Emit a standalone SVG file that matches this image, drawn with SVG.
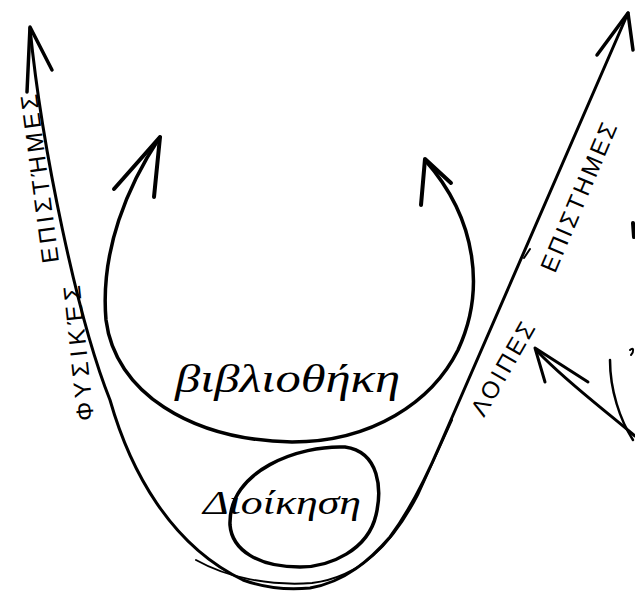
<svg xmlns="http://www.w3.org/2000/svg" width="635" height="591" viewBox="0 0 635 591">
<style>
.ln{fill:none;stroke:#000;stroke-linecap:round;stroke-linejoin:round}
.t{fill:#000;font-family:"Liberation Sans","DejaVu Sans",sans-serif;font-size:24px}
.h{fill:#000;font-family:"Liberation Serif","DejaVu Serif",serif;font-style:italic}
</style>
<rect width="635" height="591" fill="#fff"/>
<g id="connectors">
  <path class="ln" stroke-width="3" d="M30,28 C42,150 78,320 110,400 C130,470 170,545 243,580 C265,588 290,590 310,588 C345,582 370,560 390,537 C410,510 425,480 440,445 L628,13"/>
  <path class="ln" stroke-width="2" d="M196,560 C228,578 270,586 312,583 C360,577 392,545 418,495 L452,420"/>
  <path class="ln" stroke-width="3.5" d="M27,92 L30,27 L52,70"/>
  <path class="ln" stroke-width="3.5" d="M597,55 L628,13 L633,50"/>
  <path class="ln" stroke-width="3.5" d="M160,137 C128,185 100,250 106,320 C115,392 190,440 292,442 C372,442 432,402 458,350 C485,292 478,220 425,160"/>
  <path class="ln" stroke-width="4" d="M114,189 L160,137 L154,197"/>
  <path class="ln" stroke-width="4" d="M421,205 L425,159 L451,183"/>
  <path class="ln" stroke-width="3" d="M545,382 L535,348 L588,382"/>
  <path class="ln" stroke-width="3" d="M538,352 C570,385 605,410 635,436"/>
  <path class="ln" stroke-width="2.5" d="M610,360 C610,390 620,420 633,440"/>
  <path class="ln" stroke-width="4" d="M633,223 L634,237"/>
  <path class="ln" stroke-width="2" d="M630,350 C634,346 634,352 631,355"/>
  <path class="ln" stroke-width="2" d="M524,258 L530,249"/>
</g>
<g id="node-admin">
  <path class="ln" stroke-width="3.5" d="M230,525 C228,470 300,445 345,447 C380,452 382,490 376,515 C368,550 330,567 300,567 C258,567 232,550 230,525 Z"/>
  <text class="h" x="203" y="514" font-size="34" textLength="158" lengthAdjust="spacingAndGlyphs">Διοίκηση</text>
</g>
<g id="node-library">
  <text class="h" x="175" y="392" font-size="40" textLength="225" lengthAdjust="spacingAndGlyphs">βιβλιοθήκη</text>
</g>
<g id="node-natural">
  <text class="t" transform="translate(94,420) rotate(-96)" textLength="136" lengthAdjust="spacing">ΦΥΣΙΚΈΣ</text>
  <text class="t" transform="translate(59,262) rotate(-97.5)" textLength="170" lengthAdjust="spacing">ΕΠΙΣΤΉΜΕΣ</text>
</g>
<g id="node-other">
  <text class="t" transform="translate(484,418) rotate(-60)" textLength="104" lengthAdjust="spacing">ΛΟΙΠΕΣ</text>
  <text class="t" transform="translate(555,274) rotate(-67)" textLength="160" lengthAdjust="spacing">ΕΠΙΣΤΗΜΕΣ</text>
</g>
</svg>
